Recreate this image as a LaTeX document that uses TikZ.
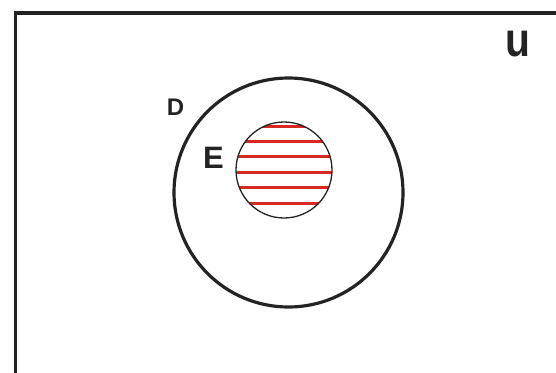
\documentclass[tikz,border=0pt]{standalone}
\usepackage{fontspec}
\setmainfont{Liberation Sans}[BoldFont={Liberation Sans Bold}]
\usepackage{tikz}
\usetikzlibrary{positioning,calc}
\definecolor{setline}{RGB}{35,35,35}
\definecolor{hatchred}{RGB}{216,40,34}
\tikzset{
  universe/.style={draw=setline,line width=3.8pt},
  bigset/.style={circle,draw=setline,line width=3.2pt,minimum size=229pt,inner sep=0pt},
  subset/.style={circle,draw=setline,line width=1.3pt,minimum size=96pt,inner sep=0pt},
  hatch/.style={draw=hatchred,line width=3pt},
  setlabel/.style={text=setline,anchor=base,inner sep=0pt}
}
\begin{document}
\begin{tikzpicture}[x=1pt,y=-1pt]
  \useasboundingbox (0,0) rectangle (556,372);
  \draw[universe] (15.5,12.7) rectangle (620,420);
  \node[bigset] (D) at (288.5,192.5) {};
  \node[subset,path picture={
      \foreach \dy in {-44,-28.6,-13.2,2.2,17.6,33}
        \draw[hatch] ($(path picture bounding box.center)+(-60,\dy)$) -- ++(120,0);
    }] (E) at (284,170) {};
  \node[setlabel,font=\fontsize{24}{24}\selectfont\bfseries] (Dlab) at (175.5,115) {D};
  \node[setlabel,font=\fontsize{31}{31}\selectfont\bfseries] (Elab) at (213.5,168) {E};
  \node[setlabel,font=\fontsize{48}{48}\selectfont\bfseries,xscale=0.85] (Ulab) at (517.5,56.7) {u};
\end{tikzpicture}
\end{document}
